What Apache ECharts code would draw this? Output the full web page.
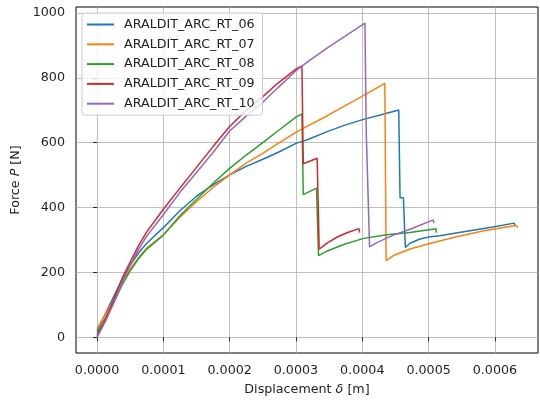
<!DOCTYPE html>
<html>
<head>
<meta charset="utf-8">
<script src="https://cdn.jsdelivr.net/npm/echarts@6/dist/echarts.min.js"></script>
<style>
  html, body { margin: 0; padding: 0; background: #fff; }
  #chart { width: 540px; height: 401px; }
</style>
</head>
<body>
<div id="chart"></div>
<script>
// specimen names
var names = ['ARALDIT_ARC_RT_06', 'ARALDIT_ARC_RT_07', 'ARALDIT_ARC_RT_08', 'ARALDIT_ARC_RT_09', 'ARALDIT_ARC_RT_10'];
var colors = ['#1f77b4', '#ff7f0e', '#2ca02c', '#d62728', '#9467bd'];

// displacement [m] / force [N]
var disp06 = [0, 0.0000125, 0.000025, 0.0000375, 0.00005, 0.0000625, 0.000075, 0.0001, 0.000125, 0.00015, 0.000175, 0.0002, 0.000225, 0.00025, 0.000275, 0.0003, 0.000318, 0.000348, 0.000375, 0.000402, 0.00043, 0.000455,
              0.000457, 0.000462, 0.000465, 0.000472, 0.000487, 0.000502, 0.000517, 0.000537, 0.000567, 0.000597, 0.000629, 0.000631];
var force06 = [20, 72, 125, 178, 222, 260, 290, 338, 390, 435, 470, 501, 527, 549, 572, 598, 610, 635, 655, 672, 687, 701,
               430, 430, 277, 290, 303, 310, 313, 320, 330, 340, 352, 343];

var disp07 = [0, 0.0000125, 0.000025, 0.0000375, 0.00005, 0.0000625, 0.000075, 0.0001, 0.000125, 0.00015, 0.000175, 0.0002, 0.000225, 0.00025, 0.000275, 0.0003, 0.000318, 0.000348, 0.000375, 0.000397, 0.000434,
              0.000436, 0.000447, 0.000472, 0.000502, 0.000542, 0.000582, 0.000631, 0.000635];
var force07 = [27, 70, 115, 165, 210, 245, 275, 316, 370, 418, 462, 501, 537, 567, 600, 632, 652, 684, 715, 740, 783,
               236, 252, 272, 289, 310, 328, 345, 340];

var disp08 = [0, 0.0000125, 0.000025, 0.0000375, 0.00005, 0.0000625, 0.000075, 0.0001, 0.000125, 0.00015, 0.000175, 0.0002, 0.000225, 0.00025, 0.000275, 0.0003, 0.000309,
              0.000311, 0.000331, 0.000334, 0.000348, 0.000373, 0.000402, 0.000437, 0.000472, 0.000511, 0.000512];
var force08 = [12, 58, 105, 160, 205, 242, 272, 315, 375, 425, 475, 521, 562, 600, 640, 679, 689,
               440, 460, 252, 267, 287, 305, 316, 323, 335, 323];

var disp09 = [0, 0.0000125, 0.000025, 0.0000375, 0.00005, 0.0000625, 0.000075, 0.0001, 0.000125, 0.00015, 0.000175, 0.0002, 0.000225, 0.00025, 0.000273, 0.0003, 0.000309,
              0.000311, 0.000312, 0.000332, 0.000335, 0.000348, 0.000363, 0.000378, 0.000395, 0.000396];
var force09 = [5, 55, 115, 180, 232, 282, 325, 395, 460, 524, 588, 650, 700, 742, 784, 827, 837,
               535, 532, 552, 272, 292, 310, 323, 335, 323];

var disp10 = [0, 0.0000125, 0.000025, 0.0000375, 0.00005, 0.0000625, 0.000075, 0.0001, 0.000125, 0.00015, 0.000175, 0.0002, 0.000225, 0.00025, 0.000273, 0.0003, 0.000318, 0.000348, 0.000404,
              0.000406, 0.000407, 0.000411, 0.000422, 0.000447, 0.000472, 0.000507, 0.000508];
var force10 = [0, 48, 105, 168, 222, 270, 312, 378, 447, 508, 570, 636, 682, 725, 770, 822, 850, 893, 969,
               633, 630, 279, 292, 315, 333, 362, 352];

var xTicks = [0, 0.0001, 0.0002, 0.0003, 0.0004, 0.0005, 0.0006];
var yTicks = [0, 200, 400, 600, 800, 1000];

var allDisp = [disp06, disp07, disp08, disp09, disp10];
var allForce = [force06, force07, force08, force09, force10];

function zip(xs, ys) {
    var out = [];
    for (var i = 0; i < xs.length; i++) out.push([xs[i], ys[i]]);
    return out;
}

var series = [];
for (var k = 0; k < names.length; k++) {
    series.push({
        name: names[k], type: 'line', data: zip(allDisp[k], allForce[k]),
        symbol: 'none', showSymbol: false, color: colors[k],
        lineStyle: { width: 1.5, color: colors[k] }
    });
}

var txt = { fontFamily: 'DejaVu Sans', fontSize: 12.7, color: '#222' };
var txtI = { fontFamily: 'DejaVu Sans', fontSize: 12.7, color: '#222', fontStyle: 'italic' };

var chart = echarts.init(document.getElementById('chart'));
chart.setOption({
    animation: false,
    grid: { left: 76, right: 2, top: 7, bottom: 45, show: true, borderColor: '#000', borderWidth: 1 },
    legend: {
        orient: 'vertical', left: 82, top: 13,
        padding: [5, 8, 5, 4], itemGap: 6.8,
        itemWidth: 27, itemHeight: 13,
        itemStyle: { opacity: 0 },
        backgroundColor: 'rgba(255,255,255,0.8)', borderColor: '#cccccc', borderWidth: 1, borderRadius: 3,
        textStyle: { fontFamily: 'DejaVu Sans', fontSize: 12.7, color: '#222', padding: [0, 0, 0, 5] },
        data: names
    },
    xAxis: {
        type: 'value', min: -0.0000317, max: 0.000665,
        name: '{a|Displacement }{i|δ}{a| [m]}', nameLocation: 'middle', nameGap: 30,
        nameTextStyle: { rich: { a: txt, i: txtI } },
        axisLine: { show: false },
        axisTick: { show: true, length: 4, customValues: xTicks, lineStyle: { color: '#000', width: 0.8 } },
        axisLabel: { customValues: xTicks, margin: 11, fontFamily: 'DejaVu Sans', fontSize: 12.7, color: '#222',
            formatter: function (v) { return v.toFixed(4); } },
        splitLine: { show: true, lineStyle: { color: '#b0b0b0', width: 0.8 } }
    },
    yAxis: {
        type: 'value', min: -48.5, max: 1018.5,
        name: '{a|Force }{i|P}{a| [N]}', nameLocation: 'middle', nameGap: 51, nameRotate: 90,
        nameTextStyle: { rich: { a: txt, i: txtI } },
        axisLine: { show: false },
        axisTick: { show: true, length: 4, customValues: yTicks, lineStyle: { color: '#000', width: 0.8 } },
        axisLabel: { customValues: yTicks, margin: 11, fontFamily: 'DejaVu Sans', fontSize: 12.7, color: '#222',
            formatter: function (v) { return String(v); } },
        splitLine: { show: true, lineStyle: { color: '#b0b0b0', width: 0.8 } }
    },
    series: series
});
</script>
</body>
</html>
